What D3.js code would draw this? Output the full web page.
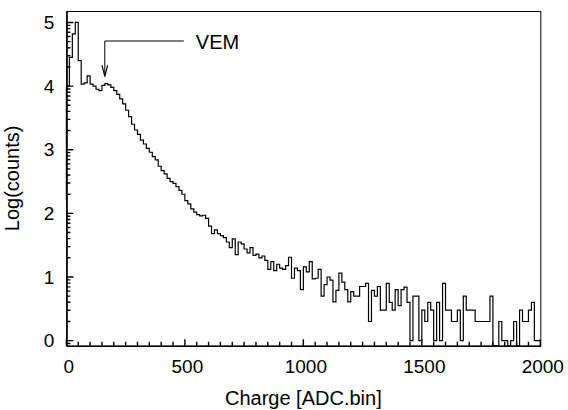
<!DOCTYPE html>
<html>
<head>
<meta charset="utf-8">
<script src="https://cdn.jsdelivr.net/npm/d3@7/dist/d3.min.js"></script>
<style>
  html, body { margin: 0; padding: 0; background: #fff; }
  svg { display: block; }
  text { font-family: "Liberation Sans", Arial, Helvetica, sans-serif; fill: #000; }
</style>
</head>
<body>
<svg id="chart" width="568" height="410"></svg>
<script>
// ---------------- data ----------------
const binWidth = 12.5;            // ADC units per bin
const startLevel = 2.2;           // log level where the outline begins at charge 0
// log10(counts) per bin, null = empty bin
const logCounts = [
  4.00, 4.45, 4.82, 5.00, 4.40, 4.03, 4.05, 4.16, 4.03, 4.00,
  3.95, 3.93, 4.01, 4.04, 4.02, 3.98, 3.93, 3.87, 3.80, 3.72,
  3.62, 3.52, 3.40, 3.31, 3.24, 3.15, 3.09, 3.02, 2.96, 2.89,
  2.84, 2.74, 2.67, 2.62, 2.55, 2.50, 2.47, 2.42, 2.36, 2.30,
  2.20, 2.15, 2.07, 2.02, 1.98, 1.96, 1.97, 1.92, 1.80, 1.68,
  1.74, 1.68, 1.65, 1.62, 1.55, 1.46, 1.60, 1.35, 1.55, 1.52,
  1.44, 1.38, 1.46, 1.34, 1.36, 1.30, 1.33, 1.26, 1.12, 1.24,
  1.10, 1.20, 1.14, 1.12, 1.18, 1.31, 0.98, 1.14, 1.10, 0.80,
  1.16, 1.08, 1.24, 0.97, 0.98, 1.12, 0.70, 0.88, 1.00, 0.95,
  0.61, 0.79, 1.06, 0.92, 0.80, 0.61, 0.77, 0.70, 0.70, 0.85,
  0.85, 0.90, 0.30, 0.79, 0.70, 0.85, 0.48, 0.48, 0.90, 0.60,
  0.48, 0.80, 0.55, 0.80, 0.84, 0.60, 0.00, 0.70, 0.70, 0.00,
  0.48, 0.30, 0.60, 0.48, 0.00, 0.60, 0.00, 0.90, 0.48, 0.48,
  0.30, 0.30, 0.48, 0.00, 0.70, 0.48, 0.48, 0.48, 0.30, 0.30,
  0.30, 0.30, 0.30, 0.70, null, null, 0.30, 0.00, 0.00, null,
  0.00, 0.30, null, 0.48, 0.30, 0.30, 0.48, 0.60, 0.00, 0.00
];
const xTicks = [0, 500, 1000, 1500, 2000];
const yTicks = [0, 1, 2, 3, 4, 5];
const xDomain = [0, 2000];
const yDomain = [-0.08, 5.18];
const xTitle = "Charge [ADC.bin]";
const yTitle = "Log(counts)";
const annotation = { label: "VEM", charge: 162, level: 4.05, textCharge: 500 };

// ---------------- layout ----------------
const W = 568, H = 410;
const margin = { top: 11, right: 27.7, bottom: 64.3, left: 66.4 };
const iw = W - margin.left - margin.right;
const ih = H - margin.top - margin.bottom;

const svg = d3.select("#chart");
const g = svg.append("g").attr("transform", `translate(${margin.left},${margin.top})`);

const x = d3.scaleLinear().domain(xDomain).range([0, iw]);
const y = d3.scaleLinear().domain(yDomain).range([ih, 0]);

// frame
g.append("rect").attr("x", 0.5).attr("y", 0.5).attr("width", iw).attr("height", ih)
  .attr("fill", "none").attr("stroke", "#000").attr("stroke-width", 1);

// histogram outline
const pts = [[0, startLevel]];
logCounts.forEach((v, i) => {
  const lv = v === null ? yDomain[0] : v;
  pts.push([i * binWidth, lv]);
  pts.push([(i + 1) * binWidth, lv]);
});
g.append("path")
  .attr("d", d3.line().x(d => x(d[0])).y(d => y(d[1]))(pts))
  .attr("fill", "none").attr("stroke", "#000").attr("stroke-width", 1.2)
  .attr("stroke-linejoin", "miter");

// axes (labels + domain lines)
const xAx = g.append("g").attr("transform", `translate(0,${ih})`)
  .call(d3.axisBottom(x).tickValues(xTicks).tickSize(0).tickPadding(14).tickFormat(d3.format("d")));
xAx.select(".domain").attr("stroke", "#000").attr("stroke-width", 1.6);
xAx.selectAll("text").attr("font-size", 19).attr("dx", 2);

const yAx = g.append("g")
  .call(d3.axisLeft(y).tickValues(yTicks).tickSize(0).tickPadding(12).tickFormat(d3.format("d")));
yAx.select(".domain").attr("stroke", "#000").attr("stroke-width", 1.6);
yAx.selectAll("text").attr("font-size", 19);

// tick marks drawn inward, as one path
const xMinor = d3.range(xDomain[0], xDomain[1] + 1, 50).filter(v => !xTicks.includes(v));
const yMinor = [];
for (let n = -1; n <= 5; n++) for (let k = 2; k <= 9; k++) {
  const v = n + Math.log10(k);
  if (v > yDomain[0] && v < yDomain[1]) yMinor.push(v);
}
let td = "";
xTicks.forEach(d => { td += `M${x(d)},${ih}V${ih - 6.5}`; });
xMinor.forEach(d => { td += `M${x(d)},${ih}V${ih - 4}`; });
yTicks.forEach(d => { td += `M0,${y(d)}H7`; });
yMinor.forEach(d => { td += `M0,${y(d)}H4`; });
g.append("path").attr("d", td).attr("fill", "none")
  .style("stroke", "#000").style("stroke-width", "1.4px");

// titles
g.append("text").attr("x", iw / 2).attr("y", ih + 59).attr("text-anchor", "middle")
  .attr("font-size", 20).text(xTitle);
g.append("text").attr("transform", `translate(${-47},${ih / 2}) rotate(-90)`)
  .attr("text-anchor", "middle").attr("font-size", 20).text(yTitle);

// VEM annotation
const ax = x(annotation.charge);
const tipY = y(annotation.level) - 6.5;
const lineY = 30;
const lineEnd = x(annotation.textCharge) - 1;
g.append("path")
  .attr("d", `M${lineEnd},${lineY}H${ax}V${tipY}`)
  .attr("fill", "none").attr("stroke", "#000").attr("stroke-width", 1);
g.append("path")
  .attr("d", `M${ax - 2.8},${tipY - 11}L${ax},${tipY}L${ax + 2.8},${tipY - 11}`)
  .attr("fill", "none").attr("stroke", "#000").attr("stroke-width", 1.2);
g.append("text").attr("x", lineEnd + 12).attr("y", lineY + 7.5).attr("font-size", 20)
  .text(annotation.label);
</script>
</body>
</html>
